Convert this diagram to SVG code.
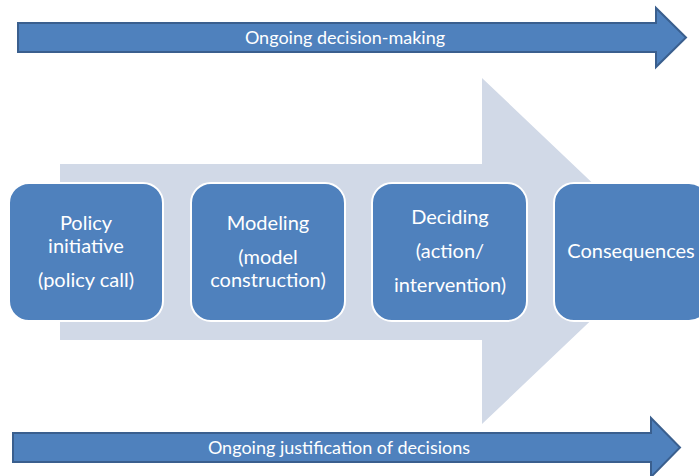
<svg xmlns="http://www.w3.org/2000/svg" width="699" height="476" viewBox="0 0 699 476">
  <style>
    .band { fill: #4F81BD; stroke: #3A5F8E; stroke-width: 2; }
    .flow { fill: #D1D9E7; }
    .step { fill: #4F81BD; stroke: #FFFFFF; stroke-width: 2; }
    .lbl { fill: #FFFFFF; font-family: Lato, "Open Sans", "Liberation Sans", sans-serif; text-anchor: middle; }
    .step-lbl { font-size: 20px; }
    .band-lbl { font-size: 18px; }
  </style>

  <!-- Background process arrow -->
  <path class="flow" d="M60,164 H482 V78 L664,251 L482,424 V340 H60 Z"/>

  <!-- Top band: ongoing decision-making -->
  <g id="band-top">
    <path class="band" d="M18,23 H656 V8 L686,37.5 L656,67 V52 H18 Z"/>
    <text class="lbl band-lbl" x="345" y="44">Ongoing decision-making</text>
  </g>

  <!-- Bottom band: ongoing justification -->
  <g id="band-bottom">
    <path class="band" d="M13,433 H651 V418 L680,447.5 L651,477 V462 H13 Z"/>
    <text class="lbl band-lbl" x="339" y="454">Ongoing justification of decisions</text>
  </g>

  <!-- Steps -->
  <g id="step-policy">
    <rect class="step" x="9" y="183" width="154" height="138" rx="20"/>
    <text class="lbl step-lbl" x="86" y="230">Policy</text>
    <text class="lbl step-lbl" x="86" y="253">initiative</text>
    <text class="lbl step-lbl" x="86" y="287">(policy call)</text>
  </g>
  <g id="step-modeling">
    <rect class="step" x="191" y="183" width="154" height="138" rx="20"/>
    <text class="lbl step-lbl" x="268" y="230">Modeling</text>
    <text class="lbl step-lbl" x="268" y="264">(model</text>
    <text class="lbl step-lbl" x="268" y="287">construction)</text>
  </g>
  <g id="step-deciding">
    <rect class="step" x="372" y="183" width="155" height="138" rx="20"/>
    <text class="lbl step-lbl" x="450" y="224">Deciding</text>
    <text class="lbl step-lbl" x="450" y="258">(action/</text>
    <text class="lbl step-lbl" x="450" y="292">intervention)</text>
  </g>
  <g id="step-consequences">
    <rect class="step" x="554" y="183" width="155" height="138" rx="20"/>
    <text class="lbl step-lbl" x="631" y="258">Consequences</text>
  </g>
</svg>
